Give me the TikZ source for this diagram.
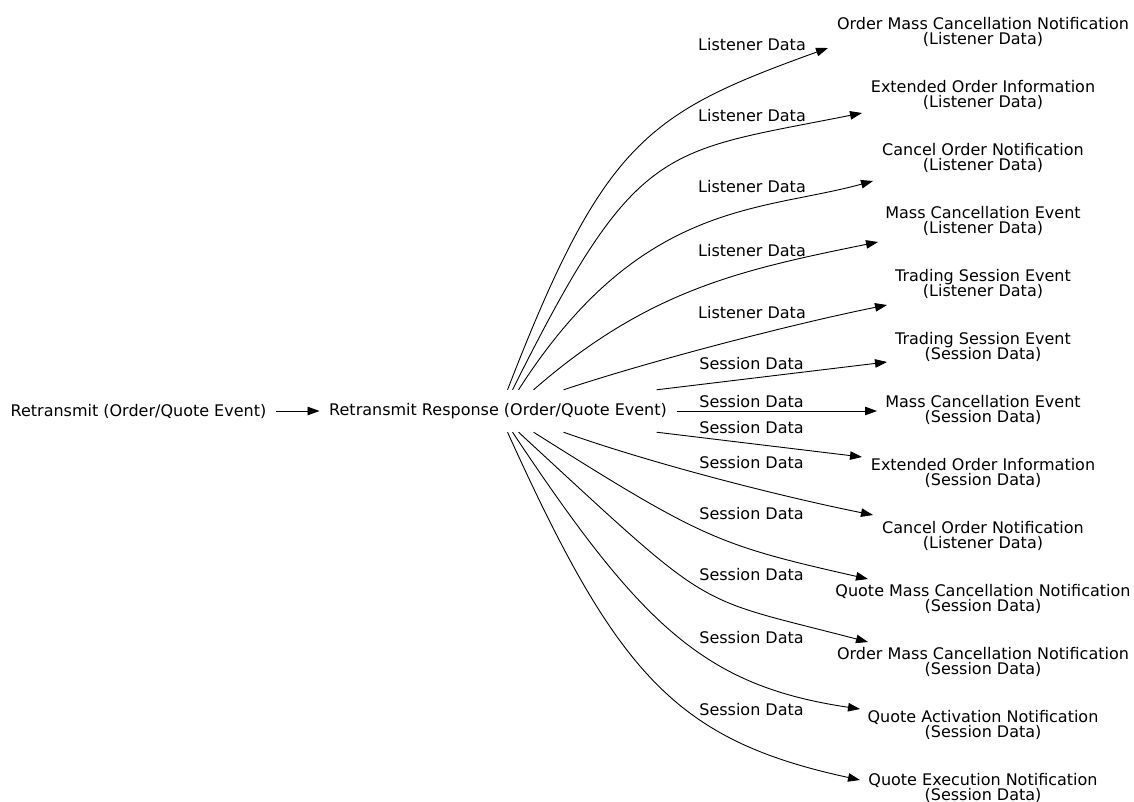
\documentclass[tikz,border=0pt]{standalone}
\usepackage{fontspec}
\setmainfont{DejaVu Sans}
\usetikzlibrary{arrows.meta,positioning,calc}

\tikzset{
	msg/.style={inner xsep=9.5pt, inner ysep=0pt, font=\fontsize{16}{15.6}\selectfont},
	reply/.style={msg, align=center},
	tag/.style={inner sep=0pt, font=\fontsize{16}{15.6}\selectfont},
	flow/.style={line width=0.9pt, -{Triangle[length=12pt,width=8.5pt]}},
}

\begin{document}
\begin{tikzpicture}[x=1pt,y=-1pt]
	\useasboundingbox (0,0) rectangle (1134,802);

	\node [msg] (req) at (138.5,411) {Retransmit (Order/Quote Event)};
	\node [msg, minimum height=42pt, right=43.5pt of req] (resp) {Retransmit Response (Order/Quote Event)};

	\node [reply] (omcL) at (983,32) {Order Mass Cancellation Notification\\(Listener Data)};
	\node [reply] (eoiL) at (983,95) {Extended Order Information\\(Listener Data)};
	\node [reply] (conL) at (983,158) {Cancel Order Notification\\(Listener Data)};
	\node [reply] (mceL) at (983,221) {Mass Cancellation Event\\(Listener Data)};
	\node [reply] (tseL) at (983,284) {Trading Session Event\\(Listener Data)};
	\node [reply] (tseS) at (983,347) {Trading Session Event\\(Session Data)};
	\node [reply] (mceS) at (983,410) {Mass Cancellation Event\\(Session Data)};
	\node [reply] (eoiS) at (983,473) {Extended Order Information\\(Session Data)};
	\node [reply] (conL2) at (983,536) {Cancel Order Notification\\(Listener Data)};
	\node [reply] (qmcS) at (983,599) {Quote Mass Cancellation Notification\\(Session Data)};
	\node [reply] (omcS) at (983,662) {Order Mass Cancellation Notification\\(Session Data)};
	\node [reply] (qanS) at (983,725) {Quote Activation Notification\\(Session Data)};
	\node [reply] (qenS) at (983,788) {Quote Execution Notification\\(Session Data)};

	\node [tag] (lst1) at (752,44.3) {Listener Data};
	\node [tag] (lst2) at (752,115.3) {Listener Data};
	\node [tag] (lst3) at (752,187) {Listener Data};
	\node [tag] (lst4) at (752,250.3) {Listener Data};
	\node [tag] (lst5) at (752,313) {Listener Data};
	\node [tag] (ses1) at (751.5,363.5) {Session Data};
	\node [tag] (ses2) at (751.5,401.7) {Session Data};
	\node [tag] (ses3) at (751.5,427.7) {Session Data};
	\node [tag] (ses4) at (751.5,462.7) {Session Data};
	\node [tag] (ses5) at (751.5,513.3) {Session Data};
	\node [tag] (ses6) at (751.5,574.5) {Session Data};
	\node [tag] (ses7) at (751.5,637.5) {Session Data};
	\node [tag] (ses8) at (751.5,709.5) {Session Data};

	\draw [flow] (req) -- (resp);
	\draw [flow] ([xshift=9.5pt]resp.north) .. controls (604,140) and (648,113) .. ($(omcL)+(-155,16)$);
	\draw [flow] ([xshift=14.5pt]resp.north) .. controls (637,140) and (662,153) .. ($(eoiL)+(-121,18)$);
	\draw [flow] ([xshift=20.5pt]resp.north) .. controls (640,200) and (760,212) .. ($(conL)+(-110,23)$);
	\draw [flow] ([xshift=35.5pt]resp.north) .. controls (648,290) and (740,270) .. ($(mceL)+(-105,21)$);
	\draw [flow] ([xshift=65.5pt]resp.north) .. controls (653,360) and (797,323) .. ($(tseL)+(-96,21)$);
	\draw [flow] ([xshift=158.5pt]resp.north) -- ($(tseS)+(-96,15)$);
	\draw [flow] (resp.east) -- ($(mceS)+(-106,1)$);
	\draw [flow] ([xshift=158.5pt]resp.south) -- ($(eoiS)+(-121,-16)$);
	\draw [flow] ([xshift=65.5pt]resp.south) .. controls (653,464) and (783,497) .. ($(conL2)+(-110,-21)$);
	\draw [flow] ([xshift=35.5pt]resp.south) .. controls (703,539) and (718,545) .. ($(qmcS)+(-115,-20)$);
	\draw [flow] ([xshift=20.5pt]resp.south) .. controls (718,616) and (688,595) .. ($(omcS)+(-115,-20)$);
	\draw [flow] ([xshift=14.5pt]resp.south) .. controls (642,627) and (705,686) .. ($(qanS)+(-123,-16)$);
	\draw [flow] ([xshift=9.5pt]resp.south) .. controls (617,674) and (675,740) .. ($(qenS)+(-123,-8)$);
\end{tikzpicture}
\end{document}
